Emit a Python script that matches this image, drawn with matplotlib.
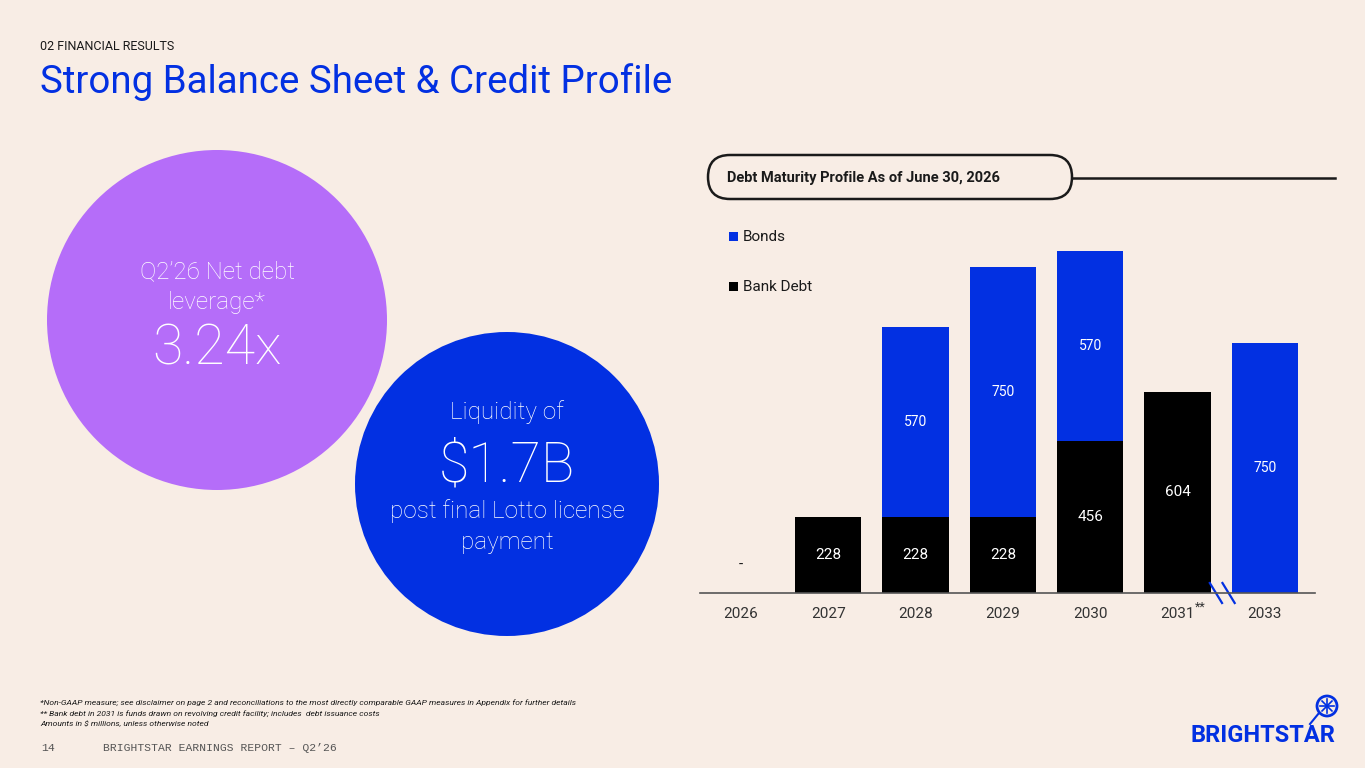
import numpy as np
import matplotlib
matplotlib.use("Agg")
from matplotlib import pyplot as plt
from matplotlib.patches import Circle, FancyBboxPatch

plt.rcParams['font.family'] = ['Roboto', 'DejaVu Sans']

# 資料 (單位: 百萬美元)
years = ['2026', '2027', '2028', '2029', '2030', '2031', '2033']
bank_debt = [0, 228, 228, 228, 456, 604, 0]
bonds = [0, 0, 570, 750, 570, 0, 750]

BG = '#F8EDE5'
BLUE = '#0230E2'
PURPLE = '#B56DF9'
DARK = '#1A1A1A'

W, H = 1365, 768
fig = plt.figure(figsize=(W / 100, H / 100), dpi=100, facecolor=BG)

# 背景軸: 像素座標
ax0 = fig.add_axes([0, 0, 1, 1])
ax0.set_xlim(0, W)
ax0.set_ylim(H, 0)
ax0.axis('off')
ax0.set_facecolor(BG)

ax0.text(40, 47, '02 FINANCIAL RESULTS', fontsize=9, color=DARK, va='center')
ax0.text(40, 82, 'Strong Balance Sheet & Credit Profile', fontsize=27.7, color=BLUE, va='center')

# 圓形
ax0.add_patch(Circle((217, 320), 170, color=PURPLE, lw=0))
ax0.add_patch(Circle((507, 484), 152, color=BLUE, lw=0))

small = dict(fontsize=17.5, color='white', ha='center', va='center', fontweight='light')
big = dict(fontsize=40, color='white', ha='center', va='center', fontweight='light')
ax0.text(217, 272, 'Q2’26 Net debt', **small)
ax0.text(217, 303, 'leverage*', **small)
ax0.text(217, 349, '3.24x', **big)

ax0.text(507, 412, 'Liquidity of', **small)
ax0.text(507, 466, '$1.7B', **big)
ax0.text(507, 511, 'post final Lotto license', **small)
ax0.text(507, 543, 'payment', **small)

# 標題框
ax0.add_patch(FancyBboxPatch((708, 155), 364, 44, boxstyle='round,pad=0,rounding_size=22',
                             fc=BG, ec=DARK, lw=1.8))
ax0.plot([1072, 1335], [178, 178], color=DARK, lw=1.8)
ax0.text(727, 178, 'Debt Maturity Profile As of June 30, 2026', fontsize=10.5, fontweight='bold',
         color=DARK, va='center')

# 圖例
ax0.add_patch(plt.Rectangle((729, 232), 9, 9, color=BLUE, lw=0))
ax0.text(743, 237, 'Bonds', fontsize=11, color=DARK, va='center')
ax0.add_patch(plt.Rectangle((729, 282), 9, 9, color='black', lw=0))
ax0.text(743, 287, 'Bank Debt', fontsize=11, color=DARK, va='center')

# 註腳
notes = ['*Non-GAAP measure; see disclaimer on page 2 and reconciliations to the most directly comparable GAAP measures in Appendix for further details',
         '** Bank debt in 2031 is funds drawn on revolving credit facility; includes  debt issuance costs',
         'Amounts in $ millions, unless otherwise noted']
for i, n in enumerate(notes):
    ax0.text(40, 703 + i * 10.5, n, fontsize=6.1, style='italic', color=DARK, va='center')

ax0.text(41, 748, '14', fontsize=8.2, family='Liberation Mono', color='#555555', va='center')
ax0.text(103, 748, 'BRIGHTSTAR EARNINGS REPORT – Q2’26', fontsize=8.2, family='Liberation Mono',
         color='#555555', va='center')

# 標誌
ax0.text(1190, 736, 'BRIGHTSTAR', fontsize=17, fontweight='bold', color=BLUE, va='center')
ax0.add_patch(Circle((1327, 706), 10, fc='none', ec=BLUE, lw=2))
for a in np.linspace(0, 2 * np.pi, 8, endpoint=False):
    ax0.plot([1327, 1327 + 7 * np.cos(a)], [706, 706 + 7 * np.sin(a)], color=BLUE, lw=1.2)
ax0.plot([1319, 1310], [713, 724], color=BLUE, lw=1.5)

# 長條圖
L, R, B, T = 700, 1315, 593, 230
ax = fig.add_axes([L / W, (H - B) / H, (R - L) / W, (B - T) / H])
ax.patch.set_alpha(0)
x = np.arange(len(years))
ax.bar(x, bank_debt, width=0.76, color='black', lw=0)
ax.bar(x, bonds, width=0.76, bottom=bank_debt, color=BLUE, lw=0)
ax.set_xlim(-0.47, 6.575)
ax.set_ylim(0, (B - T) * 3)

for i in range(len(years)):
    if bank_debt[i] > 0:
        ax.text(x[i], bank_debt[i] / 2, f'{bank_debt[i]}', color='white', fontsize=11,
                ha='center', va='center')
    if bonds[i] > 0:
        ax.text(x[i], bank_debt[i] + bonds[i] / 2, f'{bonds[i]}', color='white', fontsize=10,
                ha='center', va='center')
    if bank_debt[i] + bonds[i] == 0:
        ax.text(x[i], 85, '-', color=DARK, fontsize=11, ha='center', va='center')

for s in ['top', 'right', 'left']:
    ax.spines[s].set_visible(False)
ax.spines['bottom'].set_color('#555555')
ax.spines['bottom'].set_linewidth(1.2)
ax.set_yticks([])
ax.set_xticks(x)
ax.set_xticklabels(years, fontsize=11, color='#333333')
ax.tick_params(axis='x', length=0, pad=10)
ax.text(5.2, -42, '**', fontsize=9, color='#333333', ha='left', va='center')

# 斷軸記號
for dx in [0, 0.145]:
    ax.plot([5.37 + dx, 5.51 + dx], [30, -30], color=BLUE, lw=1.6, clip_on=False)

fig.savefig('out.png', dpi=100, facecolor=BG)
